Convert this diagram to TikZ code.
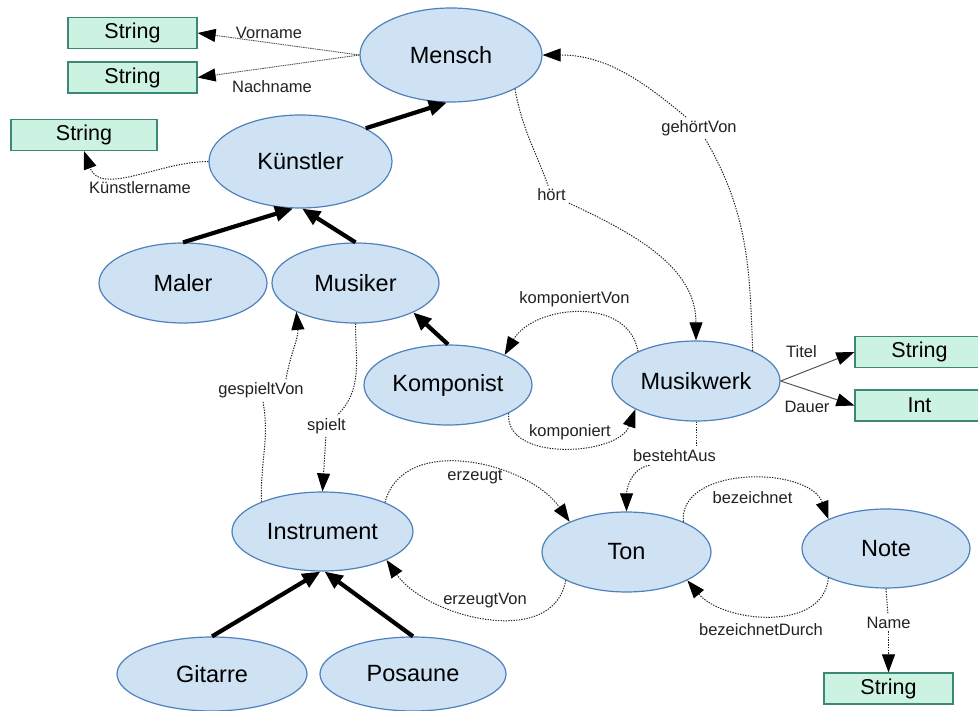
\documentclass[tikz,border=0pt]{standalone}
\usepackage{fontspec}
\setmainfont{Liberation Sans}
\usetikzlibrary{shapes.geometric,arrows.meta,calc}
\definecolor{efill}{HTML}{CFE2F3}
\definecolor{edraw}{HTML}{4F81BD}
\definecolor{bfill}{HTML}{CCF2E1}
\definecolor{bdraw}{HTML}{3D8776}
\definecolor{lcol}{HTML}{222222}
\definecolor{acol}{HTML}{555555}
\begin{document}
\begin{tikzpicture}[x=1pt,y=-1pt,
  cls/.style={ellipse, draw=edraw, fill=efill, line width=1.2pt, inner sep=0pt, text=black, font=\fontsize{23.5}{27}\selectfont},
  lit/.style={rectangle, draw=bdraw, fill=bfill, line width=1.2pt, inner sep=0pt, minimum width=129pt, minimum height=31pt, text=black, font=\fontsize{21.5}{25}\selectfont},
  lbl/.style={font=\fontsize{16.5}{20}\selectfont, inner sep=3pt, text=lcol},
  isa/.style={draw=black, line width=4.2pt, -{Triangle[length=18pt,width=15pt]}},
  reld/.style={draw=lcol, line width=1pt, dash pattern=on 1.3pt off 1.3pt},
  rel/.style={reld, -{Triangle[length=18pt,width=13pt,color=black]}},
  att/.style={draw=acol, line width=1pt, -{Triangle[length=18pt,width=13pt,color=black]}},
  attd/.style={draw=acol, line width=0.9pt, dash pattern=on 1.5pt off 0.8pt, -{Triangle[length=18pt,width=13pt,color=black]}}
]
\useasboundingbox (0,0) rectangle (978,711);
\clip (0,0) rectangle (978,711);
\fill[white] (0,0) rectangle (978,711);

% classes
\node[cls, minimum width=182pt, minimum height=94pt] (mensch) at (451,55) {Mensch};
\node[cls, minimum width=183pt, minimum height=93pt] (kuenstler) at (300.5,161.5) {Künstler};
\node[cls, minimum width=168pt, minimum height=80pt] (maler) at (183,283) {Maler};
\node[cls, minimum width=167pt, minimum height=80pt] (musiker) at (355.5,283) {Musiker};
\node[cls, minimum width=168pt, minimum height=80pt] (komponist) at (448,385) {Komponist};
\node[cls, minimum width=168pt, minimum height=80pt] (musikwerk) at (696,381) {Musikwerk};
\node[cls, minimum width=181pt, minimum height=79pt] (instrument) at (322.5,531.5) {Instrument};
\node[cls, minimum width=190pt, minimum height=74pt] (gitarre) at (212,674) {Gitarre};
\node[cls, minimum width=186pt, minimum height=74pt] (posaune) at (413,674) {Posaune};
\node[cls, minimum width=169pt, minimum height=80pt] (ton) at (626.5,552) {Ton};
\node[cls, minimum width=168pt, minimum height=79pt] (note) at (886,548.5) {Note};

% literals
\node[lit] (s1) at (132.5,33) {String};
\node[lit] (s2) at (132.5,77.5) {String};
\node[lit, minimum width=146pt] (s3) at (84,135) {String};
\node[lit] (s4) at (919.5,352) {String};
\node[lit] (s5) at (919.5,405.5) {Int};
\node[lit] (s6) at (888.5,688.5) {String};

% labels
\node[lbl] (lvor) at (269,33) {Vorname};
\node[lbl] (lnach) at (272,86.5) {Nachname};
\node[lbl] (lkn) at (140,188) {Künstlername};
\node[lbl] (lhort) at (551.5,195) {hört};
\node[lbl] (lgv) at (699,128) {gehörtVon};
\node[lbl] (lkv) at (574.5,299) {komponiertVon};
\node[lbl] (lk) at (570,432) {komponiert};
\node[lbl] (lba) at (674.5,456) {bestehtAus};
\node[lbl] (lerz) at (475,477) {erzeugt};
\node[lbl] (lerzv) at (485,601) {erzeugtVon};
\node[lbl] (lbez) at (752.5,498) {bezeichnet};
\node[lbl] (lbezd) at (761,630) {bezeichnetDurch};
\node[lbl] (lname) at (888.5,622.5) {Name};
\node[lbl] (lgsv) at (261,390) {gespieltVon};
\node[lbl] (lsp) at (326.5,426) {spielt};
\node[lbl] (ltit) at (801.5,351.5) {Titel};
\node[lbl] (ldau) at (807,406.5) {Dauer};

% inheritance
\draw[isa] (kuenstler.27) -- (mensch.-95);
\draw[isa] (maler.north) -- (kuenstler.-99);
\draw[isa] (musiker.north) -- (kuenstler.-88);
\draw[isa] (komponist.north) -- (musiker.-27);
\draw[isa] (gitarre.north) -- (instrument.-93);
\draw[isa] (posaune.north) -- (instrument.-87);

% attributes
\draw[attd] (mensch.180) -- (s1.east);
\draw[attd] (mensch.180) -- (s2.east);
\draw[rel] (kuenstler.180) to[out=180,in=-70] (s3.south);
\draw[att] (musikwerk.east) -- (s4.west);
\draw[att] (musikwerk.east) -- (s5.west);
\draw[reld] (note.south) -- (lname);
\draw[rel] (lname) -- (s6.north);

% relations
\draw[reld] (mensch.-28) to[out=-80,in=110] (lhort);
\draw[rel] (lhort) to[out=-25,in=90] (musikwerk.north);
\draw[reld] (musikwerk.28) to[out=92,in=-60] (lgv);
\draw[rel] (lgv) to[out=140,in=0] (mensch.0);
\draw[rel] (musikwerk.153) to[out=100,in=60,looseness=1.1] (komponist.28);
\draw[rel] (komponist.-25) to[out=-95,in=-110] (musikwerk.-155);
\draw[reld] (musikwerk.south) -- (musikwerk.south |- lba.north);
\draw[rel] ([xshift=-25pt]lba.south) to[out=-170,in=90] (ton.north);
\draw[rel] (instrument.25) to[out=75,in=125] (ton.152);
\draw[rel] (ton.-155) to[out=-100,in=-55] (instrument.-24);
\draw[rel] (ton.28) to[out=95,in=110] (note.153);
\draw[rel] (note.-153) to[out=-95,in=-50] (ton.-25);
\draw[reld] (instrument.154) to[out=92,in=-80] (lgsv);
\draw[rel] ([xshift=25pt]lgsv.north) to[out=80,in=-85] (musiker.-154);
\draw[reld] (musiker.south) to[out=-90,in=45] (lsp);
\draw[rel] (lsp) -- (instrument.north);
\end{tikzpicture}
\end{document}
